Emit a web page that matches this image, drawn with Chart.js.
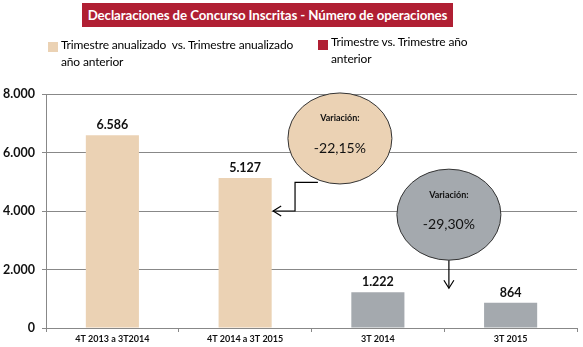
<!DOCTYPE html>
<html>
<head>
<meta charset="utf-8">
<script src="https://cdn.jsdelivr.net/npm/chart.js@4"></script>
<style>
    body { margin: 0; background: #fff; font-family: Lato, "Open Sans", sans-serif; }
    #wrap { position: relative; width: 583px; height: 347px; }
    #title {
        position: absolute; left: 82px; top: 3px; width: 371px; height: 24px;
        background: #b01f33; color: #fff; font-weight: bold; font-size: 13.3px;
        letter-spacing: -0.1px; line-height: 24px; text-align: center; white-space: nowrap;
    }
    .key { position: absolute; width: 10px; height: 10px; }
    .key-text { position: absolute; font-size: 12px; line-height: 17px; color: #000; white-space: nowrap; letter-spacing: -0.15px; }
</style>
</head>
<body>
<div id="wrap">
    <canvas id="chart" width="583" height="347"></canvas>
    <div id="title">Declaraciones de Concurso Inscritas - Número de operaciones</div>
    <div class="key" style="left:48px; top:42px; background:#ebd2b4;"></div>
    <div class="key-text" style="left:61px; top:36px;">Trimestre anualizado&nbsp; vs. Trimestre anualizado<br>año anterior</div>
    <div class="key" style="left:318px; top:40px; background:#b01f33;"></div>
    <div class="key-text" style="left:331px; top:33px;">Trimestre vs. Trimestre año<br>anterior</div>
</div>
<script>
// =======================
// Data
// =======================
const categories = ["4T 2013 a 3T2014", "4T 2014 a 3T 2015", "3T 2014", "3T 2015"];
const operaciones = [6586, 5127, 1222, 864];
const barColors = ['#ebd2b4', '#ebd2b4', '#a4a9ae', '#a4a9ae'];
const variaciones = ["-22,15%", "-29,30%"];

const fmt = v => String(v).replace(/\B(?=(\d{3})+(?!\d))/g, '.');

// =======================
// Labels, bubbles and arrows
// =======================
const extras = {
    id: 'extras',
    afterDatasetsDraw(chart) {
        const ctx = chart.ctx;
        const x = chart.scales.x;
        const y = chart.scales.y;
        const meta = chart.getDatasetMeta(0);

        // value labels over the bars
        ctx.save();
        ctx.fillStyle = '#111';
        ctx.font = 'bold 12.5px Lato, "Open Sans", sans-serif';
        ctx.textAlign = 'center';
        ctx.textBaseline = 'bottom';
        meta.data.forEach((bar, i) => {
            ctx.fillText(fmt(operaciones[i]), bar.x, bar.y - 4);
        });

        function arrowHead(tx, ty, dir) {
            ctx.beginPath();
            if (dir === 'left') {
                ctx.moveTo(tx + 8, ty - 5); ctx.lineTo(tx, ty); ctx.lineTo(tx + 8, ty + 5);
            } else {
                ctx.moveTo(tx - 5, ty - 8); ctx.lineTo(tx, ty); ctx.lineTo(tx + 5, ty - 8);
            }
            ctx.stroke();
        }

        function bubble(cx, cy, fill, text) {
            ctx.beginPath();
            ctx.ellipse(cx, cy, 52, 45.5, 0, 0, Math.PI * 2);
            ctx.fillStyle = fill;
            ctx.fill();
            ctx.strokeStyle = '#333';
            ctx.lineWidth = 1;
            ctx.stroke();
            ctx.fillStyle = '#111';
            ctx.textBaseline = 'middle';
            ctx.font = 'bold 9px Lato, "Open Sans", sans-serif';
            ctx.fillText('Variación:', cx, cy - 20);
            ctx.font = '14px Lato, "Open Sans", sans-serif';
            ctx.fillText(text, cx, cy + 10);
        }

        // first bubble and elbow arrow to bar 2
        const b1x = x.getPixelForValue(1.714);
        const b1y = y.getPixelForValue(6480);
        const elbowX = x.getPixelForValue(1.376);
        const arrowY = y.getPixelForValue(4000);
        const tip = meta.data[1].x + meta.data[1].width / 2 + 1.5;
        ctx.strokeStyle = '#000';
        ctx.lineWidth = 1.2;
        ctx.beginPath();
        ctx.moveTo(b1x - 22, b1y + 44);
        ctx.lineTo(elbowX, b1y + 44);
        ctx.lineTo(elbowX, arrowY);
        ctx.lineTo(tip, arrowY);
        ctx.stroke();
        arrowHead(tip, arrowY, 'left');
        bubble(b1x, b1y, '#ebd2b4', variaciones[0]);

        // second bubble and arrow down
        const b2x = x.getPixelForValue(2.535);
        const b2y = y.getPixelForValue(3875);
        const downY = y.getPixelForValue(1360);
        ctx.strokeStyle = '#000';
        ctx.lineWidth = 1.2;
        ctx.beginPath();
        ctx.moveTo(b2x, b2y + 45);
        ctx.lineTo(b2x, downY);
        ctx.stroke();
        arrowHead(b2x, downY, 'down');
        bubble(b2x, b2y, '#a4a9ae', variaciones[1]);
        ctx.restore();
    }
};

// =======================
// The Bar Graph
// =======================
const chartCanvas = document.querySelector('#chart');
const chartData = {
    labels: categories,
    datasets: [{
        data: operaciones,
        backgroundColor: barColors,
        borderWidth: 0,
        barPercentage: 0.4,
        categoryPercentage: 1
    }]
};
const chartOptions = {
    responsive: false,
    animation: false,
    layout: {
        padding: { top: 94, right: 6, left: 0, bottom: 0 }
    },
    scales: {
        x: {
            afterFit: s => { s.height = 19; },
            grid: {
                offset: true,
                drawOnChartArea: false,
                tickLength: 4,
                color: '#888'
            },
            border: { display: false },
            ticks: {
                color: '#111',
                padding: 2,
                font: { size: 9, weight: 'bold', family: 'Lato, "Open Sans", sans-serif' }
            }
        },
        y: {
            min: 0,
            max: 8000,
            afterFit: s => { s.width = 46; },
            grid: { color: '#888', tickLength: 4 },
            border: { color: '#888' },
            ticks: {
                stepSize: 2000,
                color: '#111',
                padding: 7,
                font: { size: 12.5, weight: 'bold', family: 'Lato, "Open Sans", sans-serif' },
                callback: v => fmt(v)
            }
        }
    },
    plugins: {
        legend: { display: false },
        tooltip: { enabled: false }
    }
};
let barChart = new Chart(chartCanvas, {
    type: 'bar',
    data: chartData,
    options: chartOptions,
    plugins: [extras]
});
</script>
</body>
</html>
